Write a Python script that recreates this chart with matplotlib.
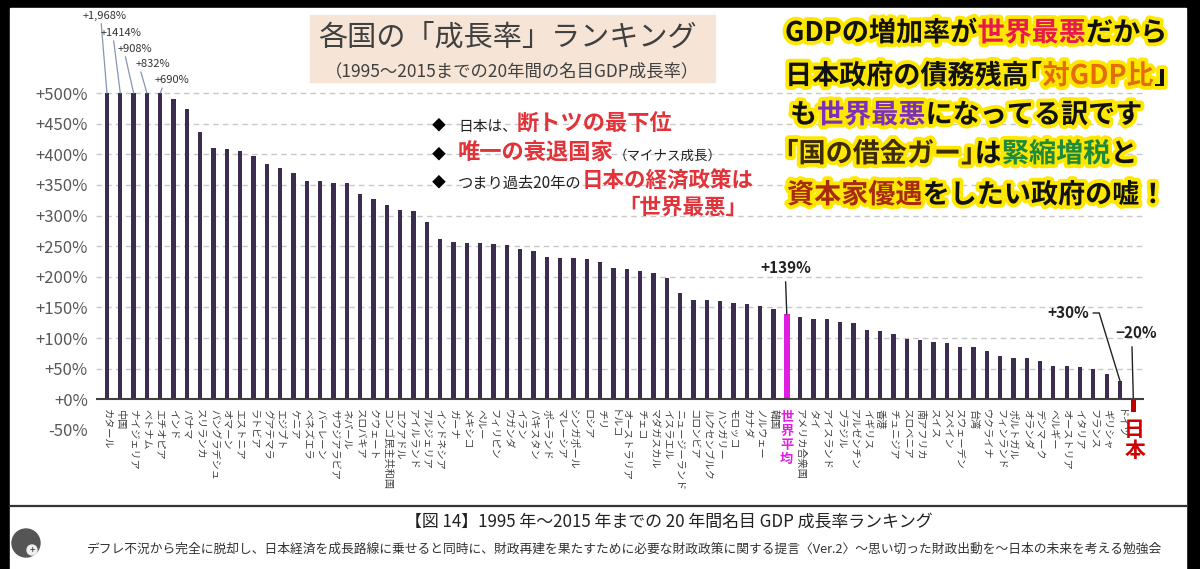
import numpy as np
import matplotlib
matplotlib.use('Agg')
import matplotlib.pyplot as plt
import matplotlib.patheffects as pe
from matplotlib.patches import Rectangle, Circle

plt.rcParams['font.family'] = ['Noto Sans CJK JP', 'DejaVu Sans']

# 1995-2015 nominal GDP growth (%)
countries = ['カタール', '中国', 'ナイジェリア', 'ベトナム', 'エチオピア', 'インド', 'パナマ',
             'スリランカ', 'バングラデシュ', 'オマーン', 'エストニア', 'ラトビア', 'グアテマラ',
             'エジプト', 'ケニア', 'ベネズエラ', 'バーレーン', 'サウジアラビア', 'ネパール',
             'スロバキア', 'クウェート', 'コンゴ民主共和国', 'エクアドル', 'アイルランド',
             'アルジェリア', 'インドネシア', 'ガーナ', 'メキシコ', 'ペルー', 'フィリピン',
             'ウガンダ', 'イラン', 'パキスタン', 'ポーランド', 'マレーシア', 'シンガポール',
             'ロシア', 'チリ', 'トルコ', 'オーストラリア', 'チェコ', 'マダガスカル', 'イスラエル',
             'ニュージーランド', 'コロンビア', 'ルクセンブルク', 'ハンガリー', 'モロッコ', 'カナダ',
             'ノルウェー', '韓国', '世界平均', 'アメリカ合衆国', 'タイ', 'アイスランド', 'ブラジル',
             'アルゼンチン', 'イギリス', '香港', 'チュニジア', 'スロベニア', '南アフリカ', 'スイス',
             'スペイン', 'スウェーデン', '台湾', 'ウクライナ', 'フィンランド', 'ポルトガル',
             'オランダ', 'デンマーク', 'ベルギー', 'オーストリア', 'イタリア', 'フランス',
             'ギリシャ', 'ドイツ', '日本']
growth = [1968, 1414, 908, 832, 690, 490, 474,
          436, 411, 409, 406, 398, 385,
          378, 370, 357, 356, 354, 353,
          335, 327, 318, 309, 307,
          290, 262, 257, 255, 255, 254,
          252, 246, 242, 233, 231, 231,
          229, 224, 214, 212, 209, 206, 198,
          173, 163, 162, 161, 157, 156,
          153, 147, 139, 134, 132, 132, 127,
          125, 114, 111, 106, 98, 97, 93,
          92, 85, 85, 79, 70, 68,
          67, 62, 55, 55, 53, 49,
          41, 30, -20]
top_labels = ['+1,968%', '+1414%', '+908%', '+832%', '+690%']
y_ticks = list(range(-50, 501, 50))
y_tick_labels = ['+%d%%' % v if v >= 0 else '%d%%' % v for v in y_ticks]

cap = 500
x = np.arange(len(countries))
shown = np.minimum(growth, cap)
i_world = countries.index('世界平均')
i_japan = countries.index('日本')

bar_col = ['#3b2c50'] * len(countries)
bar_w = [0.32] * len(countries)
bar_col[i_world] = '#e01ee0'
bar_w[i_world] = 0.45
bar_col[i_japan] = '#c00000'
bar_w[i_japan] = 0.38

fig = plt.figure(figsize=(12, 5.69), dpi=100, facecolor='black')

# background panel
bg = fig.add_axes([0, 0, 1, 1], zorder=0)
bg.set_xlim(0, 1200)
bg.set_ylim(569, 0)
bg.axis('off')
bg.add_patch(Rectangle((10, 8), 1176, 561, color='white'))
bg.plot([10, 1186], [505.5, 505.5], color='#333333', lw=1.6)
bg.add_patch(Rectangle((310, 15), 405, 67, color='#f6e5d6'))

# main chart
ax = fig.add_axes([96.3 / 1200, 1 - 430 / 569, 1047.7 / 1200, 340 / 569], zorder=1)
ax.patch.set_alpha(0)
ax.bar(x, shown, width=bar_w, color=bar_col, zorder=3)
ax.set_xlim(-0.8, 77.8)
ax.set_ylim(-50, 505)
ax.set_xticks([])
ax.set_yticks(y_ticks)
ax.set_yticklabels(y_tick_labels, fontsize=12, color='#595959')
ax.tick_params(axis='y', length=0, pad=6)
for s in ax.spines.values():
    s.set_visible(False)
for v in y_ticks:
    if v > 0:
        ax.axhline(v, color='#c8c8c8', lw=1, ls=(0, (4, 3)), zorder=1)
ax.axhline(0, color='#404040', lw=1.5, zorder=4)

for i, name in enumerate(countries):
    if i == i_world:
        ax.text(i, -17, '\n'.join(name), color='#e020e0', fontsize=9.5, fontweight='bold',
                ha='center', va='top', linespacing=1.0)
    elif i == i_japan:
        ax.text(i + 0.1, -32, '\n'.join(name), color='#d00000', fontsize=15, fontweight='bold',
                ha='center', va='top', linespacing=1.0)
    else:
        ax.text(i, -16, name, rotation=-90, fontsize=7.3, color='#404040',
                ha='center', va='top')

# labels for capped bars
tx = [-0.19, 1.05, 2.1, 3.45, 4.9]
ty = [626, 598, 572, 547, 521]
rel = [0.42, 0.31, 0.2, 0.12, 0.25]
for k in range(5):
    ax.annotate(top_labels[k], xy=(k, shown[k]), xytext=(tx[k], ty[k]), fontsize=8,
                color='#333333', ha='center', va='center', annotation_clip=False,
                arrowprops=dict(arrowstyle='-', color='#8497b0', lw=0.9,
                                relpos=(rel[k], 0.1), shrinkA=0, shrinkB=0))

ax.annotate('+139%', xy=(i_world, growth[i_world]), xytext=(50.9, 214), fontsize=11,
            fontweight='bold', color='#222222', ha='center', va='center',
            arrowprops=dict(arrowstyle='-', color='#222222', lw=1, relpos=(0.5, 0),
                            shrinkA=2, shrinkB=0))
ax.annotate('+30%', xy=(i_japan - 1, growth[i_japan - 1]), xytext=(72.1, 141), fontsize=11,
            fontweight='bold', color='#222222', ha='center', va='center',
            arrowprops=dict(arrowstyle='-', color='#222222', lw=1, relpos=(1, 0.5),
                            connectionstyle='angle,angleA=0,angleB=107,rad=0',
                            shrinkA=1, shrinkB=0))
ax.annotate('−20%', xy=(i_japan, 0), xytext=(77.2, 108), fontsize=11,
            fontweight='bold', color='#222222', ha='center', va='center',
            annotation_clip=False,
            arrowprops=dict(arrowstyle='-', color='#222222', lw=1, relpos=(0.4, 0),
                            shrinkA=2, shrinkB=0))

# overlay texts
fg = fig.add_axes([0, 0, 1, 1], zorder=3)
fg.set_xlim(0, 1200)
fg.set_ylim(569, 0)
fg.axis('off')
fg.patch.set_alpha(0)
renderer = fig.canvas.get_renderer()


def put_segments(x0, y0, parts, va='baseline', **kw):
    for s, color, size, weight in parts:
        t = fg.text(x0, y0, s, color=color, fontsize=size, fontweight=weight,
                    ha='left', va=va, **kw)
        x0 += t.get_window_extent(renderer).width


fg.text(318, 38, '各国の「成長率」ランキング', fontsize=21, color='#404040',
        ha='left', va='center')
fg.text(512, 71, '（1995～2015までの20年間の名目GDP成長率）', fontsize=12.5,
        color='#404040', ha='center', va='center')

red = '#e2333a'
blk = '#222222'
for yb in [131, 160, 188]:
    fg.text(432, yb - 2, '◆', fontsize=10, color='black', ha='left', va='baseline')
put_segments(458, 131, [('日本は、', blk, 10.6, 'normal'), ('断トツの最下位', red, 16, 'bold')])
put_segments(458, 160, [('唯一の衰退国家', red, 16, 'bold'), ('（マイナス成長）', blk, 9.7, 'normal')])
put_segments(458, 188, [('つまり過去20年の', blk, 11, 'normal'), ('日本の経済政策は', red, 15.5, 'bold')])
put_segments(618, 214, [('「世界最悪」', red, 15.5, 'bold')])

stroke = [pe.withStroke(linewidth=5.5, foreground='#ffe800')]
k = '#111111'
fs = 19.5
right_lines = [
    (785, 33, [('GDPの増加率が', k), ('世界最悪', '#e8194f'), ('だから', k)]),
    (785, 76, [('日本政府の債務残高｢', k), ('対GDP比', '#e46c0a'), ('｣', k)]),
    (790, 115, [('も', k), ('世界最悪', '#7b2fbe'), ('になってる訳です', k)]),
    (785, 154, [('｢国の借金ガー｣', '#3d2b0a'), ('は', k), ('緊縮増税', '#1e8a3c'), ('と', k)]),
    (787, 195, [('資本家優遇', '#a82a10'), ('をしたい政府の嘘！', k)]),
]
for x0, y0, parts in right_lines:
    put_segments(x0, y0, [(s, c, fs, 'bold') for s, c in parts], va='center',
                 path_effects=stroke)

# caption
fg.text(669, 522, '【図 14】1995 年～2015 年までの 20 年間名目 GDP 成長率ランキング',
        fontsize=12.2, color='#222222', ha='center', va='center')
fg.text(625, 549, 'デフレ不況から完全に脱却し、日本経済を成長路線に乗せると同時に、財政再建を果たすために必要な財政政策に関する提言〈Ver.2〉～思い切った財政出動を～日本の未来を考える勉強会',
        fontsize=9.2, color='#333333', ha='center', va='center')
fg.add_patch(Circle((26, 543), 14, color='#555555'))
fg.add_patch(Circle((32, 550), 5, color='#eeeeee'))
fg.text(32, 550, '+', fontsize=7, color='#333333', ha='center', va='center')

fig.savefig('out.png', dpi=100, facecolor='black')
